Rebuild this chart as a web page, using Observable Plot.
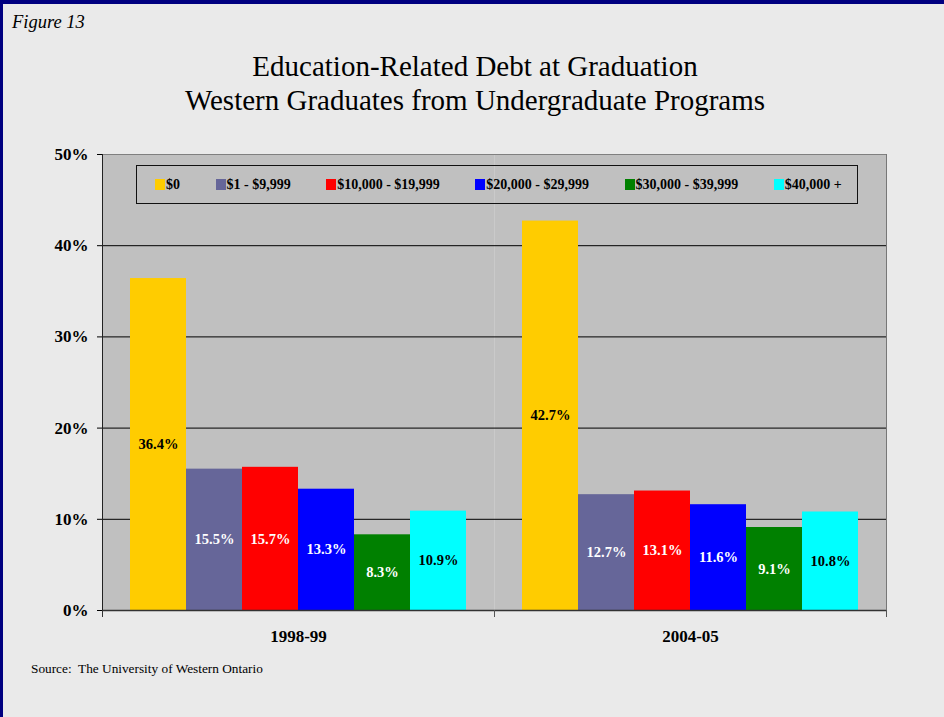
<!DOCTYPE html>
<html>
<head>
<meta charset="utf-8">
<script src="https://cdn.jsdelivr.net/npm/d3@7"></script>
<script src="https://cdn.jsdelivr.net/npm/@observablehq/plot@0.6"></script>
<style>
  html, body { margin: 0; padding: 0; }
  body { width: 944px; height: 717px; overflow: hidden; font-family: "Liberation Serif", "Times New Roman", serif; }
  #page { position: relative; width: 944px; height: 717px; background: #eaeaea; box-sizing: border-box; border-left: 3px solid #000080; border-top: 4px solid #000080; }
  #fig { position: absolute; left: 9px; top: 8px; font-style: italic; font-size: 18.5px; color: #000; }
  #title { position: absolute; left: 0; width: 944px; top: 45px; text-align: center; font-size: 29px; line-height: 34px; color: #000; }
  #chart { position: absolute; left: -3px; top: -4px; }
  #legend { position: absolute; left: 133px; top: 161px; width: 722px; height: 39px; box-sizing: border-box; border: 1.5px solid #111; display: flex; align-items: center; padding-left: 18px; gap: 35.5px; font-weight: bold; font-size: 14px; color: #000; }
  #legend .item { display: flex; align-items: center; white-space: nowrap; }
  #legend .sw { width: 10px; height: 11px; margin-right: 1px; }
  #source { position: absolute; left: 28px; top: 657px; font-size: 13.3px; color: #000; }
</style>
</head>
<body>
<div id="page">
  <div id="fig">Figure 13</div>
  <div id="title">Education-Related Debt at Graduation<br>Western Graduates from Undergraduate Programs</div>
  <div id="chart"></div>
  <div id="legend"></div>
  <div id="source">Source:&nbsp; The University of Western Ontario</div>
</div>
<script>
const years = ["1998-99", "2004-05"];
const brackets = ["$0", "$1 - $9,999", "$10,000 - $19,999", "$20,000 - $29,999", "$30,000 - $39,999", "$40,000 +"];
const colors = ["#ffcc00", "#666699", "#ff0000", "#0000ff", "#008000", "#00ffff"];
const labelColors = ["#000000", "#ffffff", "#ffffff", "#ffffff", "#ffffff", "#000000"];
const values1998 = [36.4, 15.5, 15.7, 13.3, 8.3, 10.9];
const values2004 = [42.7, 12.7, 13.1, 11.6, 9.1, 10.8];
const yTicks = [0, 10, 20, 30, 40, 50];
const gridTicks = [10, 20, 30, 40];

const data = [];
years.forEach((yr, yi) => {
  const vals = yi === 0 ? values1998 : values2004;
  brackets.forEach((b, bi) => data.push({year: yr, bracket: b, value: vals[bi], labelColor: labelColors[bi]}));
});

const W = 944, H = 690, mTop = 154, mBottom = 80, mLeft = 102, mRight = 58;
const plotH = H - mTop - mBottom;

const chart = Plot.plot({
  width: W,
  height: H,
  marginTop: mTop,
  marginBottom: mBottom,
  marginLeft: mLeft,
  marginRight: mRight,
  style: {background: "transparent", fontFamily: "Liberation Serif, Times New Roman, serif", fontSize: "17px", fontWeight: "bold", color: "#000", overflow: "visible"},
  facet: {data: data, x: "year"},
  fx: {domain: years, padding: 0, label: null, tickSize: 0, tickPadding: 19, axis: "bottom"},
  x: {domain: brackets, paddingInner: 0, paddingOuter: 0.5, axis: null},
  y: {domain: [0, 50], ticks: yTicks, tickFormat: d => d + "%", tickSize: 5, tickPadding: 9, label: null},
  color: {domain: brackets, range: colors},
  marks: [
    Plot.frame({fill: "#c0c0c0", stroke: null}),
    Plot.frame({anchor: "top", stroke: "#808080"}),
    Plot.ruleY(gridTicks, {stroke: "#000", strokeWidth: 1}),
    Plot.barY(data, {x: "bracket", y: "value", fill: "bracket"}),
    Plot.text(data, {x: "bracket", y: d => d.value / 2, text: d => d.value.toFixed(1) + "%", fill: "labelColor", fontSize: 14.5, fontWeight: "bold"}),
    Plot.ruleY([0], {stroke: "#333", strokeWidth: 1.5}),
    Plot.frame({anchor: "right", stroke: "#777", facetAnchor: "right"}),
    Plot.frame({anchor: "left", stroke: "#222", facetAnchor: "left"}),
    Plot.frame({anchor: "left", stroke: "#333", insetTop: plotH, insetBottom: -6}),
    Plot.frame({anchor: "right", stroke: "#555", insetTop: plotH, insetBottom: -6})
  ]
});
document.getElementById("chart").appendChild(chart);

const legend = d3.select("#legend");
brackets.forEach((b, i) => {
  const it = legend.append("div").attr("class", "item");
  it.append("div").attr("class", "sw").style("background", colors[i]);
  it.append("span").text(b);
});
</script>
</body>
</html>
